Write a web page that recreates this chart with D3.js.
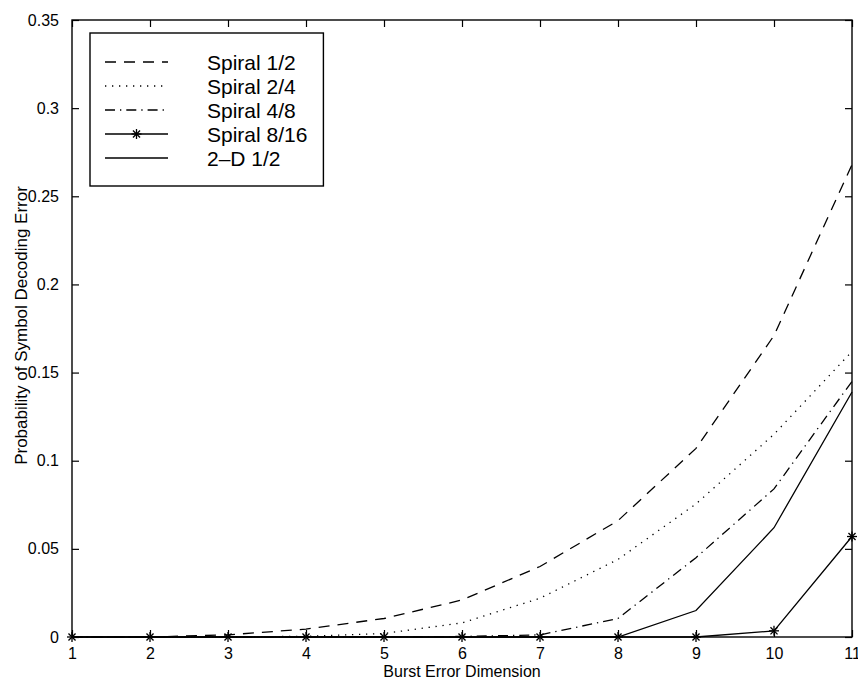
<!DOCTYPE html>
<html>
<head>
<meta charset="utf-8">
<script src="https://cdn.jsdelivr.net/npm/d3@7"></script>
<style>
  html, body { margin: 0; padding: 0; background: #fff; }
  svg { display: block; font-family: "Liberation Sans", Arial, Helvetica, sans-serif; }
</style>
</head>
<body>
<svg id="chart" width="858" height="681"></svg>
<script>
// Burst error dimension (x) and symbol decoding error probability per scheme
const burstDims = [1, 2, 3, 4, 5, 6, 7, 8, 9, 10, 11];
const spiral_1_2  = [0, 0, 0.0012, 0.0045, 0.0105, 0.021, 0.040, 0.066, 0.107, 0.171, 0.268];
const spiral_2_4  = [0, 0, 0, 0.0004, 0.002, 0.008, 0.022, 0.044, 0.0755, 0.115, 0.162];
const spiral_4_8  = [0, 0, 0, 0, 0, 0.0003, 0.0012, 0.0105, 0.045, 0.084, 0.145];
const spiral_8_16 = [0, 0, 0, 0, 0, 0, 0, 0, 0, 0.0035, 0.057];
const twoD_1_2    = [0, 0, 0, 0, 0, 0, 0, 0, 0.015, 0.062, 0.139];

const seriesNames = ["Spiral 1/2", "Spiral 2/4", "Spiral 4/8", "Spiral 8/16", "2\u2013D 1/2"];
const seriesValues = [spiral_1_2, spiral_2_4, spiral_4_8, spiral_8_16, twoD_1_2];
const dashStyles = ["11,8", "1.3,5.7", "10,5,1.3,5", null, null];
const hasStar = [false, false, false, true, false];

const xTicks = [1, 2, 3, 4, 5, 6, 7, 8, 9, 10, 11];
const yTicks = [0, 0.05, 0.1, 0.15, 0.2, 0.25, 0.3, 0.35];
const xTitle = "Burst Error Dimension";
const yTitle = "Probability of Symbol Decoding Error";

const svg = d3.select("#chart");
const plotL = 72, plotR = 852, plotT = 20, plotB = 637;

const x = d3.scaleLinear().domain([1, 11]).range([plotL, plotR]);
const y = d3.scaleLinear().domain([0, 0.35]).range([plotB, plotT]);

const tickLen = 7;
const g = svg.append("g");

// bottom and top axes (inward ticks)
const xb = g.append("g").attr("transform", `translate(0,${plotB})`)
  .call(d3.axisBottom(x).tickValues(xTicks).tickSize(-tickLen).tickPadding(tickLen + 4).tickFormat(d3.format("d")));
const xt = g.append("g").attr("transform", `translate(0,${plotT})`)
  .call(d3.axisTop(x).tickValues(xTicks).tickSize(-tickLen).tickFormat(""));
// left and right axes
const yl = g.append("g").attr("transform", `translate(${plotL},0)`)
  .call(d3.axisLeft(y).tickValues(yTicks).tickSize(-tickLen).tickPadding(tickLen + 6).tickFormat(d => d === 0 ? "0" : String(+d.toFixed(2))));
const yr = g.append("g").attr("transform", `translate(${plotR},0)`)
  .call(d3.axisRight(y).tickValues(yTicks).tickSize(-tickLen).tickFormat(""));

[xb, xt, yl, yr].forEach(a => {
  a.select(".domain").remove();
  a.selectAll(".tick line").attr("stroke", "#000").attr("stroke-width", 1.2);
  a.selectAll("text").attr("fill", "#000").style("font-size", "16px")
    .style("font-family", "'Liberation Sans', Arial, sans-serif");
});

// plot frame
g.append("rect").attr("x", plotL).attr("y", plotT)
  .attr("width", plotR - plotL).attr("height", plotB - plotT)
  .attr("fill", "none").attr("stroke", "#000").attr("stroke-width", 1.4);

// axis titles
svg.append("text").attr("x", (plotL + plotR) / 2).attr("y", 677)
  .attr("text-anchor", "middle").style("font-size", "16px").text(xTitle);
svg.append("text").attr("transform", `translate(27,${(plotT + plotB) / 2 - 3}) rotate(-90)`)
  .attr("text-anchor", "middle").style("font-size", "17px").text(yTitle);

// series lines
const line = d3.line().x((d, i) => x(burstDims[i])).y(d => y(d));
seriesValues.forEach((vals, k) => {
  g.append("path").datum(vals)
    .attr("d", line)
    .attr("fill", "none").attr("stroke", "#000").attr("stroke-width", 1.3)
    .attr("stroke-dasharray", dashStyles[k]);
});

// asterisk marker
function star(sel, cx, cy, r) {
  const s = sel.append("g").attr("transform", `translate(${cx},${cy})`)
    .attr("stroke", "#000").attr("stroke-width", 1.3);
  const d = r * 0.707;
  s.append("line").attr("x1", -r).attr("x2", r).attr("y1", 0).attr("y2", 0);
  s.append("line").attr("x1", 0).attr("x2", 0).attr("y1", -r).attr("y2", r);
  s.append("line").attr("x1", -d).attr("x2", d).attr("y1", -d).attr("y2", d);
  s.append("line").attr("x1", -d).attr("x2", d).attr("y1", d).attr("y2", -d);
}
seriesValues.forEach((vals, k) => {
  if (!hasStar[k]) return;
  vals.forEach((v, i) => star(g, x(burstDims[i]), y(v), 5));
});

// legend
const leg = svg.append("g");
const legLeft = 90, legTop = 33, rowY0 = 62, rowStep = 24;
const legBox = leg.append("rect").attr("x", legLeft).attr("y", legTop)
  .attr("height", 153).attr("fill", "#fff").attr("stroke", "#000").attr("stroke-width", 1.4);
let maxEnd = 0;
seriesNames.forEach((name, k) => {
  const yy = rowY0 + k * rowStep;
  leg.append("line").attr("x1", 105).attr("x2", 168).attr("y1", yy).attr("y2", yy)
    .attr("stroke", "#000").attr("stroke-width", 1.3).attr("stroke-dasharray", dashStyles[k]);
  if (hasStar[k]) star(leg, 136.5, yy, 5);
  const t = leg.append("text").attr("x", 207).attr("y", yy + 7.5)
    .style("font-size", "21px").text(name);
  maxEnd = Math.max(maxEnd, 207 + t.node().getComputedTextLength());
});
legBox.attr("width", maxEnd + 16 - legLeft);
</script>
</body>
</html>
